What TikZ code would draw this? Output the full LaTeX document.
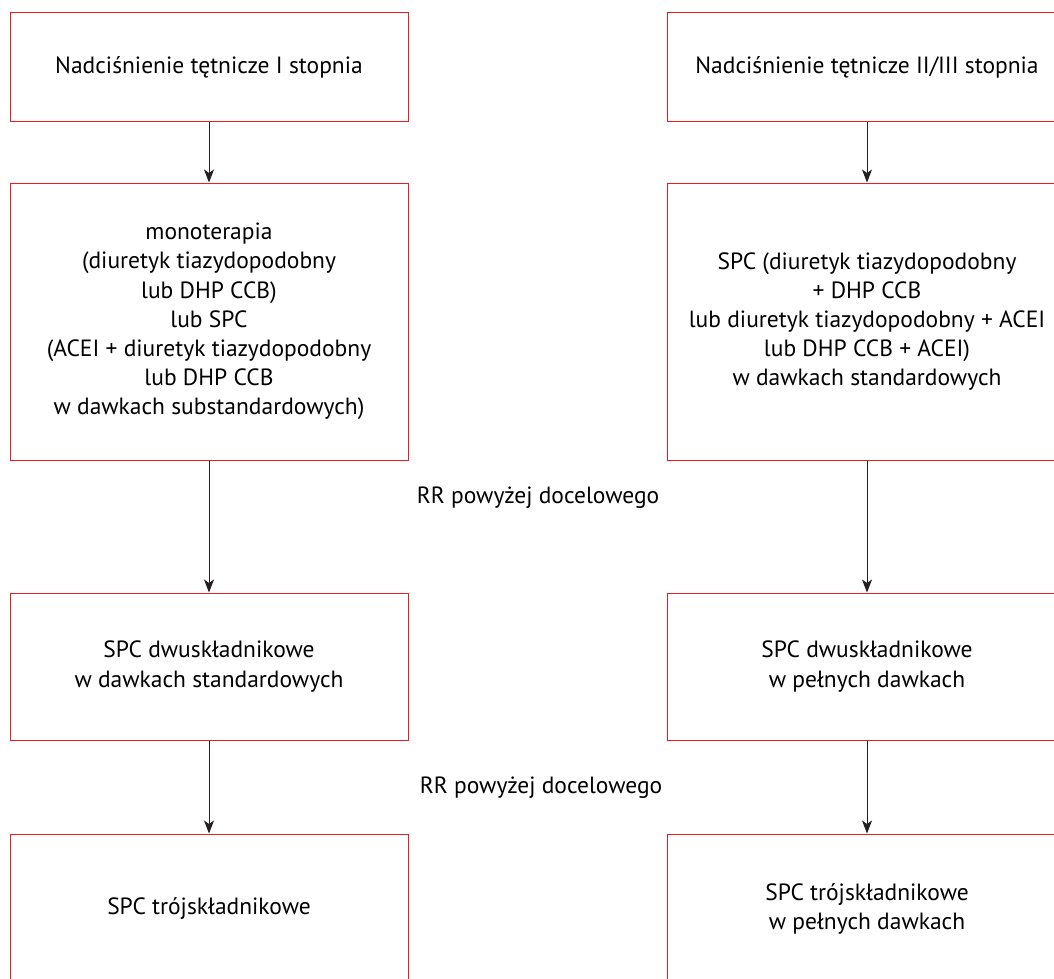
\documentclass[tikz,border=0pt]{standalone}
\usepackage{fontspec}
\setmainfont{PT Sans}
\usetikzlibrary{arrows.meta}
\definecolor{boxred}{RGB}{237,28,36}
\definecolor{arrowgray}{RGB}{35,31,32}
\begin{document}
\begin{tikzpicture}[x=1pt,y=-1pt,
  stepbox/.style={draw=boxred, line width=1pt, rectangle, align=center,
    inner sep=0pt, font=\fontsize{23.5}{29.2}\selectfont},
  flow/.style={draw=arrowgray, line width=1pt, -{Stealth[length=13pt,width=10pt,inset=3.5pt]}},
  lbl/.style={font=\fontsize{23.5}{29.2}\selectfont, inner sep=0pt}]
\useasboundingbox (0,0) rectangle (1054,979);
\clip (0,0) rectangle (1054,979);
% left column
\node[stepbox, minimum width=398pt, minimum height=109pt] (l1) at (209,67.5) {Nadciśnienie tętnicze I stopnia};
\node[stepbox, minimum width=398pt, minimum height=277pt] (l2) at (209,321.5) {monoterapia\\(diuretyk tiazydopodobny\\lub DHP CCB)\\lub SPC\\(ACEI + diuretyk tiazydopodobny\\lub DHP CCB\\w dawkach substandardowych)};
\node[stepbox, minimum width=398pt, minimum height=147pt] (l3) at (209,666.5) {SPC dwuskładnikowe\\w dawkach standardowych};
\node[stepbox, minimum width=398pt, minimum height=150pt] (l4) at (209,909) {SPC trójskładnikowe};
% right column
\node[stepbox, minimum width=400pt, minimum height=109pt] (r1) at (867,67.5) {Nadciśnienie tętnicze II/III stopnia};
\node[stepbox, minimum width=400pt, minimum height=277pt] (r2) at (867,321.5) {SPC (diuretyk tiazydopodobny\\+ DHP CCB\\lub diuretyk tiazydopodobny + ACEI\\lub DHP CCB + ACEI)\\w dawkach standardowych};
\node[stepbox, minimum width=400pt, minimum height=147pt] (r3) at (867,666.5) {SPC dwuskładnikowe\\w pełnych dawkach};
\node[stepbox, minimum width=400pt, minimum height=150pt] (r4) at (867,909) {SPC trójskładnikowe\\w pełnych dawkach};
% labels
\node[lbl] (t1) at (538,498) {RR powyżej docelowego};
\node[lbl] (t2) at (541,788) {RR powyżej docelowego};
% arrows
\draw[flow] (l1.south) -- (l2.north);
\draw[flow] (l2.south) -- (l3.north);
\draw[flow] (l3.south) -- (l4.north);
\draw[flow] (r1.south) -- (r2.north);
\draw[flow] (r2.south) -- (r3.north);
\draw[flow] (r3.south) -- (r4.north);
\end{tikzpicture}
\end{document}
